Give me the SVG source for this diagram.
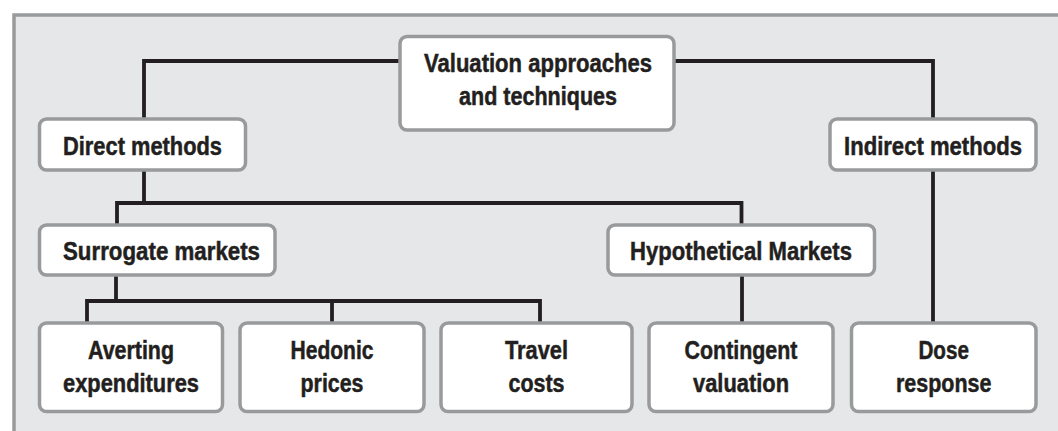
<svg xmlns="http://www.w3.org/2000/svg" width="1058" height="431" viewBox="0 0 1058 431">
<style>
.box{fill:#ffffff;stroke:#999a9c;stroke-width:3.5}
.t{font-family:"Liberation Sans",Arial,sans-serif;font-weight:bold;font-size:26px;fill:#231f20;stroke:#231f20;stroke-width:0.5;text-anchor:middle}
.c{fill:none;stroke:#231f20;stroke-width:3.8;stroke-linejoin:miter;stroke-linecap:butt}
</style>
<rect x="0" y="0" width="1058" height="431" fill="#ffffff"/>
<rect x="14" y="15" width="1060" height="430" fill="#e6e7e8" stroke="#999a9c" stroke-width="3.5"/>
<g id="connectors">
<path class="c" d="M400 61 H144 V119"/>
<path class="c" d="M674 61 H933 V119"/>
<path class="c" d="M144 170 V203"/>
<path class="c" d="M117 225 V203 H741.5 V225"/>
<path class="c" d="M116 275 V301"/>
<path class="c" d="M87 323 V301 H540 V323"/>
<path class="c" d="M332 301 V323"/>
<path class="c" d="M742 275 V323"/>
<path class="c" d="M933 170 V323"/>
</g>
<g id="root">
<rect class="box" x="400" y="36.5" width="274" height="93.5" rx="7"/>
<text class="t" x="538" y="72" textLength="228" lengthAdjust="spacingAndGlyphs">Valuation approaches</text>
<text class="t" x="538" y="105" textLength="158" lengthAdjust="spacingAndGlyphs">and techniques</text>
</g>
<g id="direct">
<rect class="box" x="39.5" y="119" width="206" height="51" rx="7"/>
<text class="t" x="142.5" y="155" textLength="159" lengthAdjust="spacingAndGlyphs">Direct methods</text>
</g>
<g id="indirect">
<rect class="box" x="830" y="119" width="206" height="51" rx="7"/>
<text class="t" x="933" y="155" textLength="178" lengthAdjust="spacingAndGlyphs">Indirect methods</text>
</g>
<g id="surrogate">
<rect class="box" x="39.5" y="225" width="235.5" height="50" rx="7"/>
<text class="t" x="161.5" y="260" textLength="197" lengthAdjust="spacingAndGlyphs">Surrogate markets</text>
</g>
<g id="hypothetical">
<rect class="box" x="608" y="225" width="266.5" height="50" rx="7"/>
<text class="t" x="741" y="260" textLength="222" lengthAdjust="spacingAndGlyphs">Hypothetical Markets</text>
</g>
<g id="averting">
<rect class="box" x="39.5" y="323" width="183" height="88.5" rx="7"/>
<text class="t" x="131" y="358.5" textLength="86" lengthAdjust="spacingAndGlyphs">Averting</text>
<text class="t" x="131" y="392" textLength="136" lengthAdjust="spacingAndGlyphs">expenditures</text>
</g>
<g id="hedonic">
<rect class="box" x="240" y="323" width="184" height="88.5" rx="7"/>
<text class="t" x="332" y="358.5" textLength="83" lengthAdjust="spacingAndGlyphs">Hedonic</text>
<text class="t" x="332" y="392" textLength="63" lengthAdjust="spacingAndGlyphs">prices</text>
</g>
<g id="travel">
<rect class="box" x="441" y="323" width="191" height="88.5" rx="7"/>
<text class="t" x="536.5" y="358.5" textLength="63" lengthAdjust="spacingAndGlyphs">Travel</text>
<text class="t" x="536.5" y="392" textLength="56" lengthAdjust="spacingAndGlyphs">costs</text>
</g>
<g id="contingent">
<rect class="box" x="649" y="323" width="184" height="88.5" rx="7"/>
<text class="t" x="741" y="358.5" textLength="113" lengthAdjust="spacingAndGlyphs">Contingent</text>
<text class="t" x="741" y="392" textLength="96" lengthAdjust="spacingAndGlyphs">valuation</text>
</g>
<g id="dose">
<rect class="box" x="851.5" y="323" width="184.5" height="88.5" rx="7"/>
<text class="t" x="943.7" y="358.5" textLength="50.5" lengthAdjust="spacingAndGlyphs">Dose</text>
<text class="t" x="943.7" y="392" textLength="95.5" lengthAdjust="spacingAndGlyphs">response</text>
</g>
</svg>
